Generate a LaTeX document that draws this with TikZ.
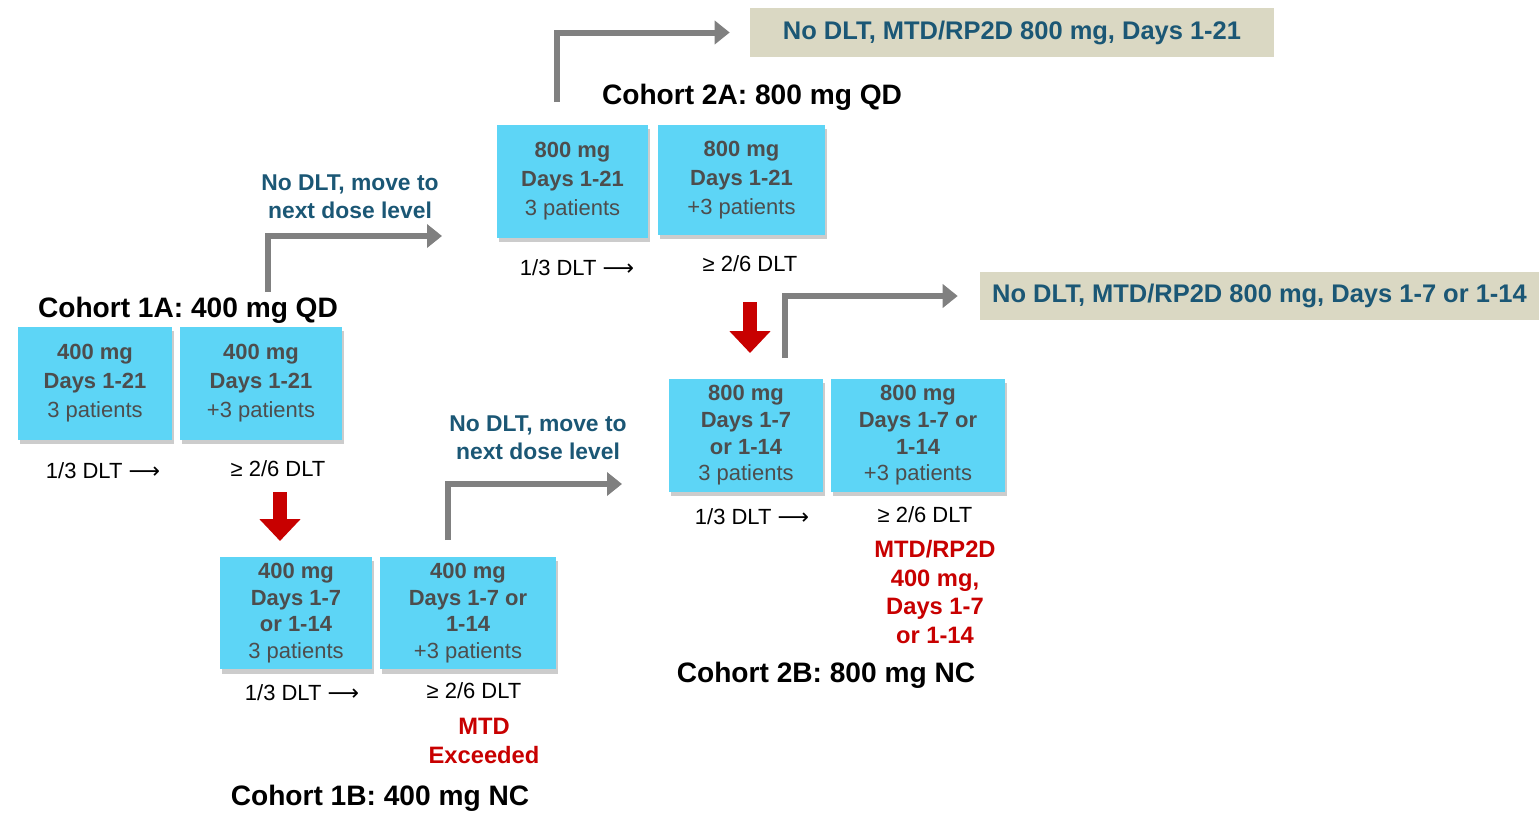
\documentclass[tikz,border=0pt]{standalone}
\usepackage{fontspec}
\setmainfont{Liberation Sans}
\newfontfamily\arrowfont{DejaVu Sans}
\usetikzlibrary{arrows.meta,shadows}
\definecolor{boxblue}{HTML}{5DD5F6}
\definecolor{boxtext}{HTML}{4D4D4D}
\definecolor{labteal}{HTML}{1B5775}
\definecolor{restan}{HTML}{DAD8C3}
\definecolor{mtdred}{HTML}{C80000}
\definecolor{arrowgray}{HTML}{808080}
\begin{document}
\begin{tikzpicture}[x=0.02cm,y=-0.02cm,
    dose/.style={fill=boxblue,text=boxtext,align=center,minimum height=2.26cm,inner sep=0pt,
      font=\fontsize{12.5}{16.5}\selectfont,
      drop shadow={shadow xshift=1pt,shadow yshift=-2.5pt,opacity=0.4}},
    dosefour/.style={dose,font=\fontsize{12.5}{15.2}\selectfont},
    cohort/.style={font=\bfseries\fontsize{16}{19}\selectfont},
    dlt/.style={font=\fontsize{12.5}{15}\selectfont},
    nextlvl/.style={text=labteal,align=center,font=\bfseries\fontsize{13}{16}\selectfont},
    result/.style={fill=restan,text=labteal,minimum height=0.97cm,inner sep=0pt,
      font=\bfseries\fontsize{14.5}{17}\selectfont},
    mtd/.style={text=mtdred,align=center,font=\bfseries\fontsize{13.5}{16.2}\selectfont},
    grayarrow/.style={draw=arrowgray,line width=0.12cm,-{Triangle[length=0.3cm,width=0.46cm]}},
    redarrow/.style={draw=mtdred,line width=0.28cm,-{Triangle[length=0.44cm,width=0.8cm]}}]
  \useasboundingbox (0,0) rectangle (1539,815);

  \node (t1A) at (188,310) [cohort] {Cohort 1A: 400 mg QD};
  \node (bA1) at (95,383.5) [dose,minimum width=3.08cm] {\textbf{400 mg}\\\textbf{Days 1-21}\\3 patients};
  \node (bA2) at (261,383.5) [dose,minimum width=3.24cm] {\textbf{400 mg}\\\textbf{Days 1-21}\\+3 patients};
  \node (dA1) at (103,471) [dlt] {1/3 DLT {\arrowfont ⟶}};
  \node (dA2) at (278,469) [dlt] {≥ 2/6 DLT};
  \node (nA) at (350,197) [nextlvl] {No DLT, move to\\next dose level};

  \node (bB1) at (296,613) [dosefour,minimum width=3.04cm] {\textbf{400 mg}\\\textbf{Days 1-7}\\\textbf{or 1-14}\\3 patients};
  \node (bB2) at (468,613) [dosefour,minimum width=3.52cm] {\textbf{400 mg}\\\textbf{Days 1-7 or}\\\textbf{1-14}\\+3 patients};
  \node (dB1) at (302,693) [dlt] {1/3 DLT {\arrowfont ⟶}};
  \node (dB2) at (474,691) [dlt] {≥ 2/6 DLT};
  \node (xB) at (484,741) [mtd] {MTD\\Exceeded};
  \node (t1B) at (380,798) [cohort] {Cohort 1B: 400 mg NC};
  \node (nB) at (538,438) [nextlvl] {No DLT, move to\\next dose level};

  \node (t2A) at (752,97) [cohort] {Cohort 2A: 800 mg QD};
  \node (bC1) at (572.5,181.5) [dose,minimum width=3.02cm] {\textbf{800 mg}\\\textbf{Days 1-21}\\3 patients};
  \node (bC2) at (741.5,180) [dose,minimum width=3.34cm,minimum height=2.2cm] {\textbf{800 mg}\\\textbf{Days 1-21}\\+3 patients};
  \node (dC1) at (577,268) [dlt] {1/3 DLT {\arrowfont ⟶}};
  \node (dC2) at (750,264) [dlt] {≥ 2/6 DLT};
  \node (rC) at (1012,32.5) [result,minimum width=10.48cm] {No DLT, MTD/RP2D 800 mg, Days 1-21};

  \node (bD1) at (746,435.5) [dosefour,minimum width=3.08cm] {\textbf{800 mg}\\\textbf{Days 1-7}\\\textbf{or 1-14}\\3 patients};
  \node (bD2) at (918,435.5) [dosefour,minimum width=3.48cm] {\textbf{800 mg}\\\textbf{Days 1-7 or}\\\textbf{1-14}\\+3 patients};
  \node (dD1) at (752,517) [dlt] {1/3 DLT {\arrowfont ⟶}};
  \node (dD2) at (925,515) [dlt] {≥ 2/6 DLT};
  \node (xD) at (935,592) [mtd] {MTD/RP2D\\400 mg,\\Days 1-7\\or 1-14};
  \node (t2B) at (826,675) [cohort] {Cohort 2B: 800 mg NC};
  \node (rD) at (1259.5,296) [result,minimum width=11.18cm] {No DLT, MTD/RP2D 800 mg, Days 1-7 or 1-14};

  \coordinate (gA) at (268,292);
  \coordinate (gAe) at (442,236);
  \coordinate (gB) at (448,540);
  \coordinate (gBe) at (622,484);
  \coordinate (gC) at (557,102);
  \coordinate (gD) at (785,358);
  \draw [grayarrow] (gA) |- (gAe);
  \draw [grayarrow] (gB) |- (gBe);
  \draw [grayarrow] (gC) |- ([xshift=-0.4cm]rC.west);
  \draw [grayarrow] (gD) |- ([xshift=-0.44cm]rD.west);

  \coordinate (rA) at (280,492);
  \coordinate (rAe) at (280,541);
  \coordinate (rB) at (750,302);
  \coordinate (rBe) at (750,353);
  \draw [redarrow] (rA) -- (rAe);
  \draw [redarrow] (rB) -- (rBe);
\end{tikzpicture}
\end{document}
